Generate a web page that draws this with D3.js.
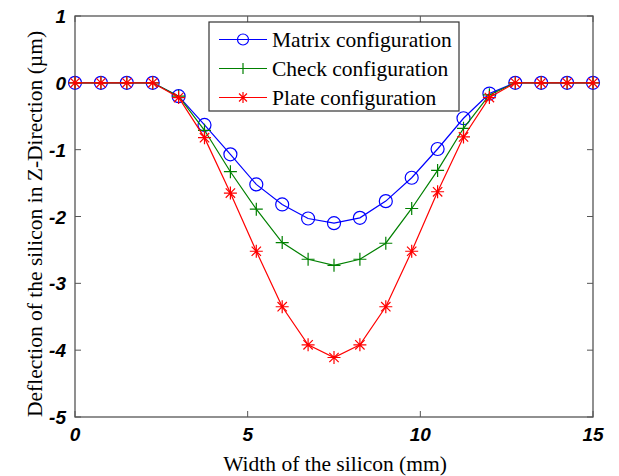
<!DOCTYPE html>
<html>
<head>
<meta charset="utf-8">
<script src="https://cdn.jsdelivr.net/npm/d3@7"></script>
<style>
  body { margin: 0; background: #fff; }
  svg { display: block; }
  .tick-label { font-family: "Liberation Sans", Arial, sans-serif; font-weight: bold; font-style: italic; font-size: 19px; }
  .title { font-family: "Liberation Serif", "Times New Roman", serif; font-size: 21.5px; }
  .legend-text { font-family: "Liberation Serif", "Times New Roman", serif; font-size: 21.5px; }
</style>
</head>
<body>
<div id="chart"></div>
<script>
// width positions along the silicon (mm)
const widths = [0, 0.75, 1.5, 2.25, 3, 3.75, 4.5, 5.25, 6, 6.75, 7.5,
  8.25, 9, 9.75, 10.5, 11.25, 12, 12.75, 13.5, 14.25, 15];

const matrixValues = [0, 0, 0, 0, -0.2, -0.63, -1.07, -1.52, -1.82, -2.03, -2.1,
  -2.02, -1.77, -1.42, -0.99, -0.53, -0.16, 0, 0, 0, 0];
const checkValues = [0, 0, 0, 0, -0.2, -0.71, -1.33, -1.89, -2.39, -2.64, -2.73,
  -2.64, -2.4, -1.88, -1.31, -0.68, -0.18, 0, 0, 0, 0];
const plateValues = [0, 0, 0, 0, -0.22, -0.82, -1.65, -2.52, -3.35, -3.92, -4.11,
  -3.92, -3.35, -2.52, -1.63, -0.81, -0.22, 0, 0, 0, 0];

const seriesNames = ['Matrix configuration', 'Check configuration', 'Plate configuration'];
const xTicks = [0, 5, 10, 15];
const yTicks = [1, 0, -1, -2, -3, -4, -5];

const W = 619, H = 476;
const margin = { top: 16, right: 26, bottom: 59, left: 75 };
const innerW = W - margin.left - margin.right;
const innerH = H - margin.top - margin.bottom;

const series = [
  { name: seriesNames[0], values: matrixValues, color: '#0000ff', marker: 'circle' },
  { name: seriesNames[1], values: checkValues, color: '#008000', marker: 'plus' },
  { name: seriesNames[2], values: plateValues, color: '#ff0000', marker: 'star' }
];

const svg = d3.select('#chart').append('svg')
  .attr('width', W)
  .attr('height', H);

const g = svg.append('g')
  .attr('transform', `translate(${margin.left},${margin.top})`);

const x = d3.scaleLinear().domain([0, 15]).range([0, innerW]);
const y = d3.scaleLinear().domain([-5, 1]).range([innerH, 0]);

const axisColor = '#555';
const tickLen = 6;

// frame
g.append('rect')
  .attr('width', innerW)
  .attr('height', innerH)
  .attr('fill', 'none')
  .attr('stroke', axisColor)
  .attr('stroke-width', 1.3);

// inward ticks on all four sides
xTicks.forEach((t) => {
  g.append('line').attr('x1', x(t)).attr('x2', x(t)).attr('y1', innerH).attr('y2', innerH - tickLen)
    .attr('stroke', axisColor);
  g.append('line').attr('x1', x(t)).attr('x2', x(t)).attr('y1', 0).attr('y2', tickLen)
    .attr('stroke', axisColor);
  g.append('text').attr('class', 'tick-label')
    .attr('x', x(t)).attr('y', innerH + 24)
    .attr('text-anchor', 'middle')
    .text(t);
});

yTicks.forEach((t) => {
  g.append('line').attr('x1', 0).attr('x2', tickLen).attr('y1', y(t)).attr('y2', y(t))
    .attr('stroke', axisColor);
  g.append('line').attr('x1', innerW).attr('x2', innerW - tickLen).attr('y1', y(t)).attr('y2', y(t))
    .attr('stroke', axisColor);
  g.append('text').attr('class', 'tick-label')
    .attr('x', -9).attr('y', y(t) + 7)
    .attr('text-anchor', 'end')
    .text(t);
});

// axis titles
svg.append('text').attr('class', 'title')
  .attr('x', 335)
  .attr('y', H - 5)
  .attr('text-anchor', 'middle')
  .text('Width of the silicon (mm)');

svg.append('text').attr('class', 'title')
  .attr('transform', `translate(42,224) rotate(-90)`)
  .attr('text-anchor', 'middle')
  .text('Deflection of the silicon in Z-Direction (\u00b5m)');

function drawMarker(sel, type, color, r) {
  if (type === 'circle') {
    sel.append('circle').attr('r', r).attr('fill', 'none').attr('stroke', color).attr('stroke-width', 1.2);
  } else if (type === 'plus') {
    sel.append('path').attr('d', `M${-r},0H${r}M0,${-r}V${r}`)
      .attr('stroke', color).attr('stroke-width', 1.2).attr('fill', 'none');
  } else {
    const d = r * 0.72;
    sel.append('path')
      .attr('d', `M${-r},0H${r}M0,${-r}V${r}M${-d},${-d}L${d},${d}M${-d},${d}L${d},${-d}`)
      .attr('stroke', color).attr('stroke-width', 1.2).attr('fill', 'none');
  }
}

const line = d3.line()
  .x((d) => x(d[0]))
  .y((d) => y(d[1]));

series.forEach((s) => {
  const pts = widths.map((w, i) => [w, s.values[i]]);
  g.append('path')
    .datum(pts)
    .attr('d', line)
    .attr('fill', 'none')
    .attr('stroke', s.color)
    .attr('stroke-width', 1.2);
  pts.forEach((p) => {
    const m = g.append('g').attr('transform', `translate(${x(p[0])},${y(p[1])})`);
    drawMarker(m, s.marker, s.color, 6.5);
  });
});

// legend
const legend = g.append('g').attr('transform', `translate(${209 - margin.left},${22 - margin.top})`);
legend.append('rect')
  .attr('width', 250)
  .attr('height', 89)
  .attr('fill', '#fff')
  .attr('stroke', '#333')
  .attr('stroke-width', 1.2);

series.forEach((s, i) => {
  const ly = 17.5 + i * 29;
  const row = legend.append('g').attr('transform', `translate(0,${ly})`);
  row.append('line').attr('x1', 10).attr('x2', 58).attr('y1', 0).attr('y2', 0)
    .attr('stroke', s.color).attr('stroke-width', 1.2);
  const m = row.append('g').attr('transform', 'translate(34,0)');
  drawMarker(m, s.marker, s.color, 5.5);
  row.append('text').attr('class', 'legend-text')
    .attr('x', 63).attr('y', 7)
    .text(s.name);
});
</script>
</body>
</html>
